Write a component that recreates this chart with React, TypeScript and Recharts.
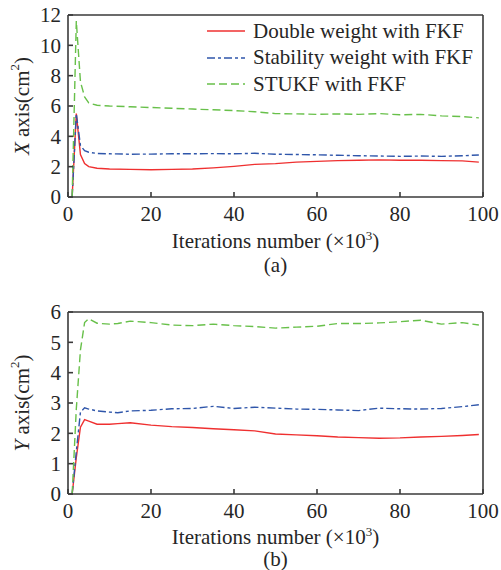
import React from 'react';
import { LineChart, Line, XAxis, YAxis, ReferenceLine, Legend } from 'recharts';

// iterations (x10^3) and errors
const xIterTop = [1, 2, 3, 4, 5, 7, 10, 15, 20, 25, 30, 35, 40, 45, 50, 55, 60, 65, 70, 75, 80, 85, 90, 95, 99];
const xDoubleWeight = [0, 5.5, 2.8, 2.2, 2.0, 1.9, 1.85, 1.82, 1.8, 1.82, 1.85, 1.92, 2.02, 2.15, 2.2, 2.3, 2.35, 2.4, 2.42, 2.45, 2.42, 2.42, 2.4, 2.38, 2.3];
const xStabilityWeight = [0, 5.5, 3.4, 3.05, 2.95, 2.87, 2.85, 2.82, 2.83, 2.85, 2.85, 2.86, 2.85, 2.88, 2.82, 2.8, 2.78, 2.75, 2.72, 2.7, 2.68, 2.7, 2.68, 2.72, 2.77];
const xStukf = [0, 11.6, 7.6, 6.6, 6.2, 6.05, 6.0, 5.95, 5.9, 5.85, 5.8, 5.75, 5.7, 5.62, 5.5, 5.48, 5.45, 5.48, 5.45, 5.5, 5.42, 5.45, 5.35, 5.3, 5.22];

const xIterBottom = [1, 2, 3, 4, 5, 7, 10, 12, 15, 20, 25, 30, 35, 40, 45, 50, 55, 60, 65, 70, 75, 80, 85, 90, 95, 99];
const yDoubleWeight = [0, 1.2, 2.2, 2.45, 2.4, 2.3, 2.3, 2.32, 2.35, 2.27, 2.22, 2.19, 2.15, 2.12, 2.08, 1.98, 1.95, 1.92, 1.88, 1.86, 1.84, 1.85, 1.88, 1.9, 1.93, 1.96];
const yStabilityWeight = [0, 1.4, 2.7, 2.84, 2.8, 2.74, 2.7, 2.68, 2.74, 2.76, 2.81, 2.82, 2.89, 2.82, 2.86, 2.83, 2.8, 2.79, 2.77, 2.75, 2.83, 2.81, 2.8, 2.82, 2.88, 2.94];
const yStukf = [0, 2.8, 4.75, 5.65, 5.78, 5.63, 5.6, 5.62, 5.7, 5.65, 5.57, 5.55, 5.6, 5.55, 5.52, 5.47, 5.5, 5.53, 5.62, 5.62, 5.64, 5.68, 5.73, 5.6, 5.65, 5.57];

const xTicks = [0, 20, 40, 60, 80, 100];
const topYTicks = [0, 2, 4, 6, 8, 10, 12];
const bottomYTicks = [0, 1, 2, 3, 4, 5, 6];

const seriesNames = ['Double weight with FKF', 'Stability weight with FKF', 'STUKF with FKF'];

const FONT = '"Times New Roman", "Liberation Serif", Times, serif';
const FS = 21;
const INK = '#262626';
const AXIS = '#3a3a3a';

const seriesStyle = [
  { key: 'dw', color: '#ef3030', dash: undefined as string | undefined },
  { key: 'sw', color: '#2f56aa', dash: '8 3 3 3' },
  { key: 'st', color: '#68c04a', dash: '8 4' },
];

const topData = xIterTop.map((x, i) => ({ x, dw: xDoubleWeight[i], sw: xStabilityWeight[i], st: xStukf[i] }));
const bottomData = xIterBottom.map((x, i) => ({ x, dw: yDoubleWeight[i], sw: yStabilityWeight[i], st: yStukf[i] }));

function XCaption({ viewBox, tag, captionDy, tagDy }: any) {
  const { x, y, width } = viewBox;
  const cx = x + width / 2;
  return (
    <g fontFamily={FONT} fontSize={FS} fill={INK}>
      <text x={cx} y={y + captionDy} textAnchor="middle">
        Iterations number (×10<tspan dy={-8} fontSize={13}>3</tspan>
        <tspan dy={8}>)</tspan>
      </text>
      <text x={cx} y={y + tagDy} textAnchor="middle">{tag}</text>
    </g>
  );
}

function YCaption({ viewBox, axisName }: any) {
  const { y, height } = viewBox;
  const cx = 22;
  const cy = y + height / 2;
  return (
    <text
      x={cx}
      y={cy}
      transform={`rotate(-90, ${cx}, ${cy})`}
      textAnchor="middle"
      dominantBaseline="central"
      fontFamily={FONT}
      fontSize={FS}
      fill={INK}
    >
      <tspan fontStyle="italic">{axisName}</tspan> axis(cm<tspan dy={-8} fontSize={13}>2</tspan>
      <tspan dy={8}>)</tspan>
    </text>
  );
}

function LegendBox() {
  return (
    <div style={{ fontFamily: FONT, fontSize: FS, color: INK }}>
      {seriesStyle.map((s, i) => (
        <div key={s.key} style={{ display: 'flex', alignItems: 'center', height: 26.5 }}>
          <svg width={42} height={10}>
            <line x1={2} y1={5} x2={40} y2={5} stroke={s.color} strokeWidth={1.4} strokeDasharray={s.dash} />
          </svg>
          <span style={{ marginLeft: 6, whiteSpace: 'nowrap' }}>{seriesNames[i]}</span>
        </div>
      ))}
    </div>
  );
}

function Panel({ data, yMax, yTicks, axisName, tag, height, marginTop, marginBottom, captionDy, tagDy, showLegend }: any) {
  return (
    <LineChart width={501} height={height} data={data} margin={{ top: marginTop, right: 18, bottom: marginBottom, left: 0 }}>
      <XAxis
        dataKey="x"
        type="number"
        domain={[0, 100]}
        ticks={xTicks}
        height={30}
        stroke={AXIS}
        strokeWidth={1.6}
        tickSize={-5}
        tickMargin={14}
        tick={{ fontFamily: FONT, fontSize: FS, fill: INK }}
        label={<XCaption tag={tag} captionDy={captionDy} tagDy={tagDy} />}
      />
      <YAxis
        type="number"
        domain={[0, yMax]}
        ticks={yTicks}
        width={68}
        stroke={AXIS}
        strokeWidth={1.6}
        tickSize={-5}
        tickMargin={12}
        tick={{ fontFamily: FONT, fontSize: FS, fill: INK }}
        label={<YCaption axisName={axisName} />}
      />
      <ReferenceLine y={yMax} stroke={AXIS} strokeWidth={1.6} />
      <ReferenceLine x={100} stroke={AXIS} strokeWidth={1.6} />
      {showLegend && (
        <Legend
          layout="vertical"
          align="center"
          verticalAlign="middle"
          content={<LegendBox />}
          wrapperStyle={{ top: 18, left: 205, width: 290 }}
        />
      )}
      {seriesStyle.map((s, i) => (
        <Line
          key={s.key}
          dataKey={s.key}
          name={seriesNames[i]}
          type="linear"
          stroke={s.color}
          strokeWidth={1.4}
          strokeDasharray={s.dash}
          dot={false}
          isAnimationActive={false}
        />
      ))}
    </LineChart>
  );
}

export default function App() {
  return (
    <div style={{ position: 'absolute', left: 0, top: 0, width: 501, height: 570, background: '#fff' }}>
      <div style={{ position: 'absolute', left: 0, top: 0 }}>
        <Panel data={topData} yMax={12} yTicks={topYTicks} axisName="X" tag="(a)" height={290} marginTop={15} marginBottom={63} captionDy={51} tagDy={75} showLegend />
      </div>
      <div style={{ position: 'absolute', left: 0, top: 290 }}>
        <Panel data={bottomData} yMax={6} yTicks={bottomYTicks} axisName="Y" tag="(b)" height={280} marginTop={22} marginBottom={46} captionDy={50} tagDy={72} showLegend={false} />
      </div>
    </div>
  );
}
